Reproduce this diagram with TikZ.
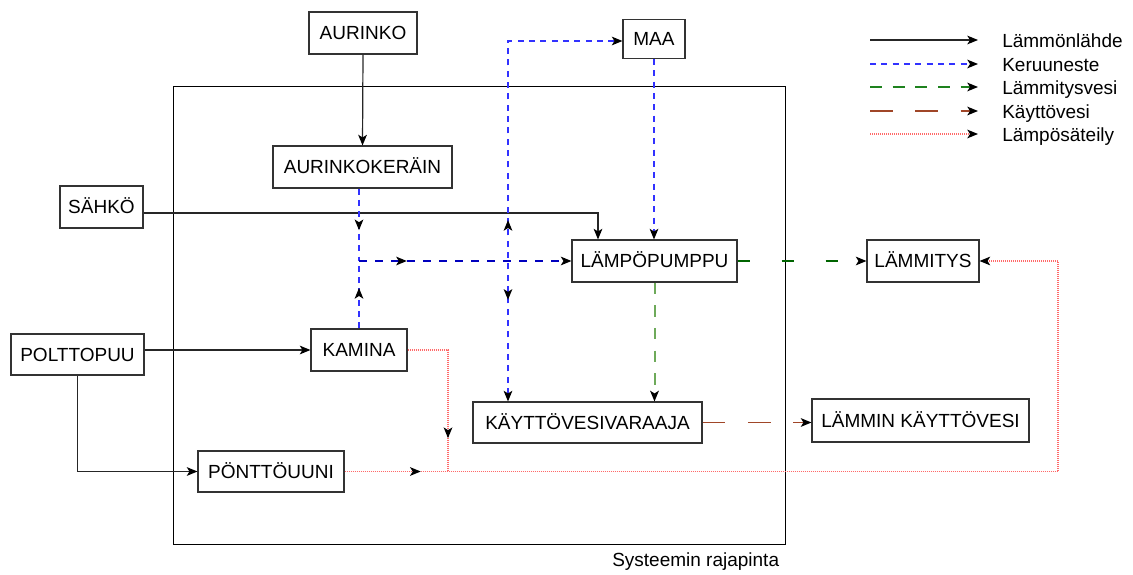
\documentclass[tikz,border=0pt]{standalone}
\usepackage{fontspec}
\setmainfont{Liberation Sans}
\usetikzlibrary{arrows.meta,decorations.markings}

\definecolor{keruu}{RGB}{50,50,255}
\definecolor{keruudark}{RGB}{0,0,190}
\definecolor{lammitysdark}{RGB}{0,100,0}
\definecolor{lammitysmid}{RGB}{30,130,30}
\definecolor{lammityslight}{RGB}{110,170,90}
\definecolor{kaytto}{RGB}{160,70,40}
\definecolor{sateily}{RGB}{255,105,105}

\begin{document}
\begin{tikzpicture}[x=0.75pt,y=-0.75pt,
  txt/.style={font=\fontsize{14.25}{17}\selectfont},
  box/.style={txt,draw=black!80,line width=0.8pt,inner sep=0pt,
    text height=10.2pt,text depth=0pt},
  sz/.style 2 args={minimum width=#1*0.75pt,minimum height=#2*0.75pt},
  frame/.style={draw=black,line width=0.75pt,inner sep=0pt},
  tipend/.style={-{Stealth[black,length=8pt,width=6.5pt,inset=2pt]}},
  tipboth/.style={{Stealth[black,length=8pt,width=6.5pt,inset=2pt]}-{Stealth[black,length=8pt,width=6.5pt,inset=2pt]}},
  midarrow/.style={postaction={decorate},decoration={markings,
    mark=at position #1 with {\arrow{Stealth[black,length=8pt,width=6.5pt,inset=2pt]}}}},
  heat/.style={black!85,line width=0.9pt},
  fluid/.style={keruu,line width=1pt,dash pattern=on 4.5pt off 4pt},
  fluiddark/.style={keruudark,line width=1pt,dash pattern=on 6pt off 6pt},
  heating/.style={lammitysdark,line width=1pt,dash pattern=on 9pt off 24pt},
  heatinglegend/.style={lammitysmid,line width=1.1pt,dash pattern=on 9pt off 8pt},
  heatinglight/.style={lammityslight,line width=1.5pt,dash pattern=on 8.5pt off 8.5pt},
  water/.style={kaytto,line width=1.1pt,dash pattern=on 17pt off 17pt},
  radiation/.style={sateily,line width=1pt,dash pattern=on 1pt off 0.5pt},
  legendtext/.style={txt,anchor=base west,inner sep=0pt}
]
\useasboundingbox (0,0) rectangle (1133,575);

% system boundary
\node (rajapinta) [frame,sz={612}{458}] at (479,315) {};
\node (rajalabel) [txt,anchor=base west,inner sep=0pt] at (612,566) {Systeemin rajapinta};

% components
\node (aurinko)       [box,sz={108}{42}] at (363,33)     {AURINKO};
\node (maa)           [box,sz={62}{39}]  at (654,39)     {MAA};
\node (aurinkokerain) [box,sz={179}{42}] at (362.5,167)  {AURINKOKERÄIN};
\node (sahko)         [box,sz={83}{42}]  at (101.5,207)  {SÄHKÖ};
\node (polttopuu)     [box,sz={133}{41}] at (77.5,354.5) {POLTTOPUU};
\node (kamina)        [box,sz={96}{42}]  at (359,350)    {KAMINA};
\node (pontto)        [box,sz={146}{41}] at (271,471.5)  {PÖNTTÖUUNI};
\node (lampopumppu)   [box,sz={165}{42}] at (654.5,261)  {LÄMPÖPUMPPU};
\node (lammitys)      [box,sz={112}{42}] at (923,261)    {LÄMMITYS};
\node (kvv)           [box,sz={229}{41}] at (587.5,422.5){KÄYTTÖVESIVARAAJA};
\node (lammin)        [box,sz={217}{43}] at (920.5,420.5){LÄMMIN KÄYTTÖVESI};

% bend points
\coordinate (J) at (359,261);
\coordinate (sbend) at (598,213);
\coordinate (M) at (508,41);
\coordinate (R) at (448,471.5);
\coordinate (Q) at (1058,471.5);

% heat sources
\draw[heat,tipend] (aurinko.south) -- (aurinkokerain.north);
\draw[heat,tipend] (sahko.east |- sbend) -- (sbend) -- (sbend |- lampopumppu.north);
\draw[heat,tipend] (polttopuu.east |- kamina.west) -- (kamina.west);
\draw[heat,tipend] (polttopuu.south) |- (pontto.west);

% collector fluid
\draw[fluid,midarrow=0.575] (J |- aurinkokerain.south) -- (J);
\draw[fluid,midarrow=0.6] (kamina.north) -- (J);
\draw[fluiddark,tipend,midarrow=0.225] (J) -- (J -| lampopumppu.west);
\draw[fluid,tipboth,postaction={decorate},decoration={markings,
    mark=at position 0.214 with {\arrowreversed{Stealth[black,length=8pt,width=6.5pt,inset=2pt]}},
    mark=at position 0.382 with {\arrow{Stealth[black,length=8pt,width=6.5pt,inset=2pt]}}}]
  (M |- kvv.north) -- (M) -- (M -| maa.west);
\draw[fluid,tipend] (maa.south) -- (maa.south |- lampopumppu.north);

% heating water
\draw[heating,tipend] (lampopumppu.east) -- (lammitys.west);
\draw[heatinglight,tipend] (lampopumppu.south) -- (lampopumppu.south |- kvv.north);

% domestic hot water
\draw[water,tipend] (kvv.east) -- (kvv.east -| lammin.west);

% radiant heat
\draw[radiation,midarrow=0.794] (kamina.east) -| (R);
\draw[radiation,tipend,midarrow=0.076] (pontto.east) -- (Q) |- (lammitys.east);

% legend
\coordinate (lg0a) at (870,40);  \coordinate (lg0b) at (978,40);
\coordinate (lg1a) at (870,64);  \coordinate (lg1b) at (978,64);
\coordinate (lg2a) at (870,87);  \coordinate (lg2b) at (978,87);
\coordinate (lg3a) at (870,111); \coordinate (lg3b) at (978,111);
\coordinate (lg4a) at (870,134); \coordinate (lg4b) at (978,134);
\draw[heat,tipend]          (lg0a) -- (lg0b);
\draw[fluid,tipend]         (lg1a) -- (lg1b);
\draw[heatinglegend,tipend] (lg2a) -- (lg2b);
\draw[water,tipend]         (lg3a) -- (lg3b);
\draw[radiation,tipend]     (lg4a) -- (lg4b);
\node (lgt0) [legendtext] at (1002,47)  {Lämmönlähde};
\node (lgt1) [legendtext] at (1002,71)  {Keruuneste};
\node (lgt2) [legendtext] at (1002,94)  {Lämmitysvesi};
\node (lgt3) [legendtext] at (1002,118) {Käyttövesi};
\node (lgt4) [legendtext] at (1002,141) {Lämpösäteily};
\end{tikzpicture}
\end{document}
